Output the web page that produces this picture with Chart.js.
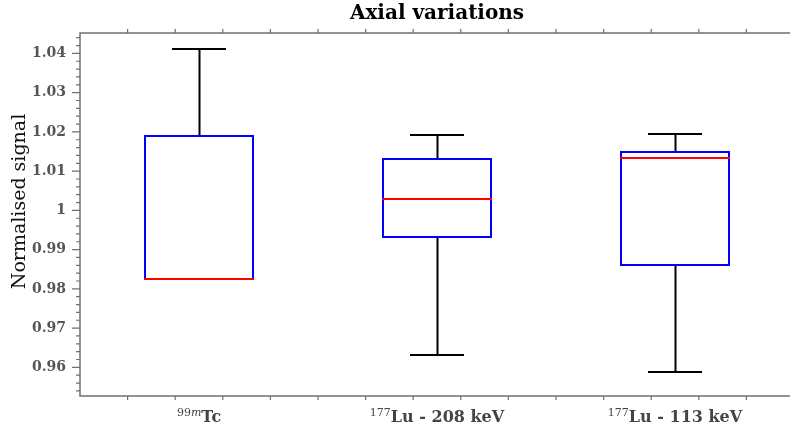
<!DOCTYPE html>
<html><head><meta charset="utf-8">
<script src="https://cdn.jsdelivr.net/npm/chart.js@4/dist/chart.umd.min.js"></script>
<style>html,body{margin:0;padding:0;overflow:hidden;background:#fff;width:790px;height:429px}</style>
</head><body>
<canvas id="c" width="800" height="429"></canvas>
<script>
// ---- data ----
const categories = ['Tc', 'Lu - 208 keV', 'Lu - 113 keV'];
const categorySupNum = ['99', '177', '177'];
const categorySupIt  = ['m', '', ''];
const whiskerLow  = [0.9824, 0.9631, 0.9587];
const quartile1   = [0.9824, 0.9931, 0.9861];
const medians     = [0.9824, 1.0030, 1.0133];
const quartile3   = [1.0190, 1.0132, 1.0148];
const whiskerHigh = [1.0410, 1.0192, 1.0194];
const yMin = 0.9527, yMax = 1.0452;
const yTickStep = 0.002;          // minor tick spacing
const yLabelStep = 0.01;          // labelled ticks
const xTickStep = 0.2;            // x minor tick spacing (category units)
const titleText = 'Axial variations';
const yTitleText = 'Normalised signal';

const SERIF = "'DejaVu Serif', 'Liberation Serif', serif";
const AXIS_COLOR = '#707070';
const LINE_W = 2;
const R = Math.round;

function isMajor(v, step) {
  const r = v / step;
  return Math.abs(r - Math.round(r)) < 1e-6;
}

const axesPlugin = {
  id: 'axesPlugin',
  afterDraw(chart) {
    const {ctx, chartArea: ca, scales: {x, y}} = chart;
    ctx.save();
    ctx.strokeStyle = AXIS_COLOR;
    ctx.lineWidth = 1.5;
    ctx.beginPath();
    ctx.moveTo(chart.width, ca.top); ctx.lineTo(ca.left, ca.top); ctx.lineTo(ca.left, ca.bottom); ctx.lineTo(chart.width, ca.bottom);
    ctx.stroke();
    ctx.lineWidth = 1.2;
    ctx.beginPath();
    y.ticks.forEach(t => {
      const py = y.getPixelForValue(t.value);
      const len = isMajor(t.value, yLabelStep) ? 8 : 4;
      ctx.moveTo(ca.left, py); ctx.lineTo(ca.left - len, py);
    });
    const start = x.min - 0.5, end = x.max + 0.5;
    for (let k = 1; start + k * xTickStep < end - 1e-9; k++) {
      const v = start + k * xTickStep;
      const px = x.getPixelForValue(v);
      const len = isMajor(v, 1) ? 8 : 4;
      ctx.moveTo(px, ca.bottom); ctx.lineTo(px, ca.bottom + len);
      ctx.moveTo(px, ca.top); ctx.lineTo(px, ca.top - len);
    }
    ctx.stroke();
    // x labels with superscript
    const fSup = "11px " + SERIF, fSupIt = "italic 11px " + SERIF, fMain = "bold 16px " + SERIF;
    categories.forEach((lab, i) => {
      const px = x.getPixelForValue(i);
      ctx.font = fSup;   const w1 = ctx.measureText(categorySupNum[i]).width;
      ctx.font = fSupIt; const w2 = ctx.measureText(categorySupIt[i]).width;
      ctx.font = fMain;  const w3 = ctx.measureText(lab).width;
      const x0 = px - (w1 + w2 + w3) / 2;
      ctx.fillStyle = '#444';
      ctx.textBaseline = 'alphabetic';
      ctx.textAlign = 'left';
      ctx.font = fSup;   ctx.fillText(categorySupNum[i], x0, ca.bottom + 20);
      ctx.font = fSupIt; ctx.fillText(categorySupIt[i], x0 + w1, ca.bottom + 20);
      ctx.font = fMain;  ctx.fillText(lab, x0 + w1 + w2, ca.bottom + 26);
    });
    // y axis title
    ctx.save();
    ctx.translate(20, (ca.top + ca.bottom) / 2 - 13);
    ctx.rotate(-Math.PI / 2);
    ctx.font = "19px " + SERIF;
    ctx.fillStyle = '#111';
    ctx.textAlign = 'center';
    ctx.textBaseline = 'middle';
    ctx.fillText(yTitleText, 0, 0);
    ctx.restore();
    ctx.restore();
  }
};

const boxPlugin = {
  id: 'boxExtras',
  afterDatasetsDraw(chart) {
    const {ctx, scales: {y}} = chart;
    const meta = chart.getDatasetMeta(0);
    ctx.save();
    ctx.lineWidth = LINE_W;
    meta.data.forEach((bar, i) => {
      const cx = R(bar.x), half = bar.width / 2, cap = half / 2;
      const xl = R(bar.x - half), xr = R(bar.x + half);
      const top = R(Math.min(bar.y, bar.base)), bot = R(Math.max(bar.y, bar.base));
      // box (from the bar element geometry)
      ctx.strokeStyle = '#0000ff';
      ctx.strokeRect(xl, top, xr - xl, bot - top);
      // whiskers
      ctx.strokeStyle = '#000';
      ctx.beginPath();
      if (whiskerHigh[i] > quartile3[i]) {
        const a = R(y.getPixelForValue(quartile3[i])), b = R(y.getPixelForValue(whiskerHigh[i]));
        ctx.moveTo(cx + 0.5, a - 1); ctx.lineTo(cx + 0.5, b);
        ctx.moveTo(R(cx - cap), b); ctx.lineTo(R(cx + cap), b);
      }
      if (whiskerLow[i] < quartile1[i]) {
        const a = R(y.getPixelForValue(quartile1[i])), b = R(y.getPixelForValue(whiskerLow[i]));
        ctx.moveTo(cx + 0.5, a + 1); ctx.lineTo(cx + 0.5, b);
        ctx.moveTo(R(cx - cap), b); ctx.lineTo(R(cx + cap), b);
      }
      ctx.stroke();
      // median
      ctx.strokeStyle = '#ff0000';
      ctx.beginPath();
      const m = R(y.getPixelForValue(medians[i]));
      ctx.moveTo(xl - 1, m); ctx.lineTo(xr + 1, m);
      ctx.stroke();
    });
    ctx.restore();
  }
};

new Chart(document.getElementById('c'), {
  type: 'bar',
  data: {
    labels: categories,
    datasets: [{
      label: 'IQR',
      data: quartile1.map((q, i) => [q, quartile3[i]]),
      backgroundColor: 'rgba(0,0,0,0)',
      borderWidth: 0,
      inflateAmount: 0,
      barPercentage: 0.454,
      categoryPercentage: 1
    }]
  },
  options: {
    responsive: false,
    devicePixelRatio: 1,
    animation: false,
    events: [],
    layout: { padding: { top: 0, left: 0, right: 6, bottom: 33 } },
    plugins: {
      legend: { display: false },
      tooltip: { enabled: false },
      title: {
        display: true,
        fullSize: false,
        text: titleText,
        color: '#000',
        font: { family: SERIF, size: 20, weight: 'bold' },
        padding: { top: 2, bottom: 7 }
      }
    },
    scales: {
      x: { type: 'category', offset: true, display: false },
      y: {
        min: yMin, max: yMax,
        afterBuildTicks(scale) {
          const t = [];
          const s = Math.ceil(yMin / yTickStep - 1e-9), e = Math.floor(yMax / yTickStep + 1e-9);
          for (let k = s; k <= e; k++) t.push({ value: +(k * yTickStep).toFixed(4) });
          scale.ticks = t;
        },
        afterFit(scale) { scale.width = 80; },
        grid: { display: false, drawTicks: false, tickLength: 0 },
        border: { display: false },
        ticks: {
          autoSkip: false,
          padding: 14,
          color: '#555',
          font: { family: SERIF, size: 14, weight: 'bold' },
          callback: (v) => isMajor(v, yLabelStep) ? String(+v.toFixed(2)) : ''
        },
        title: { display: false }
      }
    }
  },
  plugins: [boxPlugin, axesPlugin]
});
</script>
</body></html>
